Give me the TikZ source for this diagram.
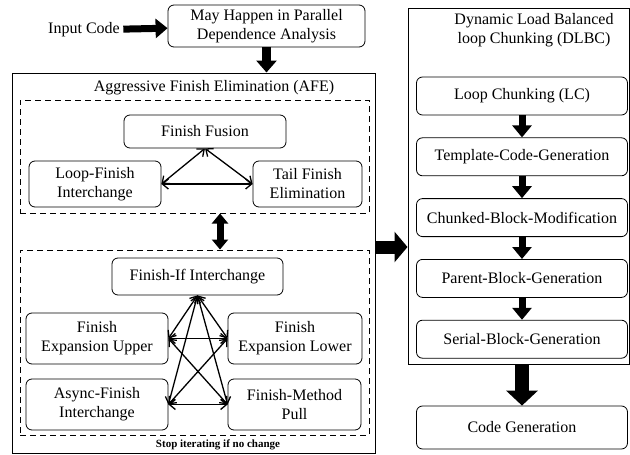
\documentclass[tikz,border=0pt]{standalone}
\usepackage{fontspec}
\setmainfont{Liberation Serif}
\usetikzlibrary{positioning,arrows.meta}

\begin{document}
\begin{tikzpicture}[x=1pt,y=-1pt,font=\fontsize{16}{19}\selectfont]
\tikzstyle{block}=[rectangle, rounded corners=6pt, draw=black, line width=0.8pt, align=center, inner sep=1pt]
\tikzstyle{frame}=[rectangle, draw=black, line width=1pt, inner sep=0pt]
\tikzstyle{dashframe}=[rectangle, draw=black, line width=1pt, dash pattern=on 6pt off 4pt, inner sep=0pt]
\tikzstyle{connect}=[{Straight Barb[length=6pt,width=10pt]}-{Straight Barb[length=6pt,width=10pt]}, line width=1.3pt]
\tikzstyle{fatarrow}=[line width=7pt, -{Triangle[length=12pt,width=19pt]}]
\tikzstyle{hugearrow}=[line width=14pt, -{Triangle[length=15pt,width=31pt]}]
\useasboundingbox (0,0) rectangle (630,455);
  % front end
  \node (input) at (84,30) {Input Code};
  \node[block, minimum width=197, minimum height=42] (mhp) at (266.5,26) {May Happen in Parallel\\Dependence Analysis};
  % AFE
  \node[frame, minimum width=363, minimum height=380] (afe) at (193.5,263) {};
  \node (afetitle) at (214,88) {Aggressive Finish Elimination (AFE)};
  \node[dashframe, minimum width=349, minimum height=113] (grpa) at (194.5,156.5) {};
  \node[dashframe, minimum width=349, minimum height=185] (grpb) at (194.5,342.5) {};
  \node[font=\fontsize{11}{13}\selectfont\bfseries] (stop) at (218,445) {Stop iterating if no change};
  \node[block, minimum width=162, minimum height=33] (ff) at (205,131.5) {Finish Fusion};
  \node[block, minimum width=132, minimum height=46] (lfi) at (95,184) {Loop-Finish\\Interchange};
  \node[block, minimum width=109, minimum height=46] (tfe) at (307.5,184) {Tail Finish\\Elimination};
  \node[block, minimum width=171, minimum height=37] (fif) at (197.5,276.5) {Finish-If Interchange};
  \node[block, minimum width=142, minimum height=51] (feu) at (97,338.5) {Finish\\Expansion Upper};
  \node[block, minimum width=134, minimum height=51] (fel) at (295,338.5) {Finish\\Expansion Lower};
  \node[block, minimum width=142, minimum height=51] (afi) at (97,404.5) {Async-Finish\\Interchange};
  \node[block, minimum width=133, minimum height=51] (fmp) at (294.5,404.5) {Finish-Method\\Pull};
  % DLBC
  \node[frame, minimum width=221, minimum height=356] (dlbc) at (518.5,186) {};
  \node[align=center] (dlbctitle) at (534,30) {Dynamic Load Balanced\\loop Chunking (DLBC)};
  \node[block, minimum width=211, minimum height=38] (lc) at (522,96) {Loop Chunking (LC)};
  \node[block, minimum width=211, minimum height=38, node distance=22pt] (tcg) [below=of lc] {Template-Code-Generation};
  \node[block, minimum width=211, minimum height=38, node distance=22pt] (cbm) [below=of tcg] {Chunked-Block-Modification};
  \node[block, minimum width=211, minimum height=38, node distance=22pt] (pbg) [below=of cbm] {Parent-Block-Generation};
  \node[block, minimum width=211, minimum height=38, node distance=22pt] (sbg) [below=of pbg] {Serial-Block-Generation};
  \node[block, minimum width=211, minimum height=43] (cg) at (522,427.5) {Code Generation};
  % flow
  \draw[fatarrow] (input) -- (mhp);
  \draw[fatarrow, line width=9pt, -{Triangle[length=12pt,width=20pt]}] (mhp.south) -- (mhp.south |- afe.north);
  \draw[line width=7pt, {Triangle[length=10pt,width=16pt]}-{Triangle[length=10pt,width=16pt]}] ([xshift=25.5pt]grpa.south) -- ([xshift=25.5pt]grpb.north);
  \draw[hugearrow, line width=13pt, -{Triangle[length=13pt,width=30pt]}] ([yshift=16pt]afe.east) -- ([yshift=16pt]afe.east -| dlbc.west);
  \draw[fatarrow] (lc) -- (tcg);
  \draw[fatarrow] (tcg) -- (cbm);
  \draw[fatarrow] (cbm) -- (pbg);
  \draw[fatarrow] (pbg) -- (sbg);
  \draw[hugearrow] (dlbc.south -| cg) -- (cg);
  \path (ff.south) edge [connect] (lfi.east)
        (ff.south) edge [connect] (tfe.west)
        (lfi.east) edge [connect] (tfe.west);
  \path (fif.south) edge [connect] (feu.east)
        (fif.south) edge [connect] (fel.west)
        (fif.south) edge [connect] (afi.east)
        (fif.south) edge [connect] (fmp.west)
        (feu.east) edge [connect] (fel.west)
        (afi.east) edge [connect] (fmp.west)
        (feu.east) edge [connect] (fmp.west)
        (fel.west) edge [connect] (afi.east);
\end{tikzpicture}
\end{document}
